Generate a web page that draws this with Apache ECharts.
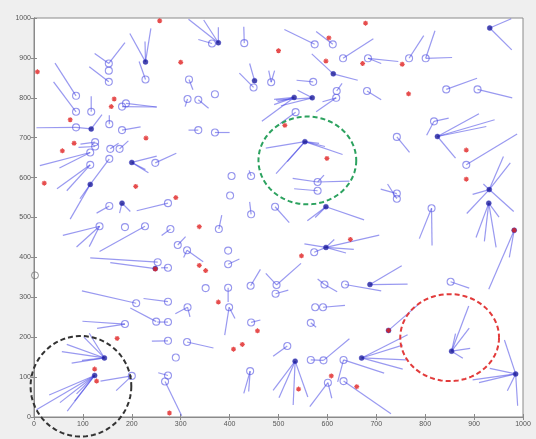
<!DOCTYPE html>
<html>
<head>
<meta charset="utf-8">
<title>Cluster map</title>
<script src="https://cdn.jsdelivr.net/npm/echarts@6/dist/echarts.min.js"></script>
</head>
<body style="margin:0;background:#efefef">
<div id="main" style="width:536px;height:439px;"></div>
<script>
// hollow circles = ordinary nodes
var nodes = [
  [86,805],[86,765],[117,765],[153,886],[153,868],[153,840],[228,846],[86,726],[154,734],[180,719],
  [180,778],[188,786],[125,689],[125,678],[115,663],[115,632],[154,647],[156,672],[175,672],[248,637],
  [154,529],[274,536],[314,797],[317,846],[336,795],[370,809],[336,719],[370,713],[404,604],[444,604],
  [401,555],[444,508],[364,936],[430,937],[449,826],[485,839],
  [574,934],[611,934],[632,899],[683,899],[767,899],[801,899],[571,840],[619,817],[618,800],[681,817],
  [535,764],[580,589],[580,567],[493,527],[742,560],[742,547],[742,702],[818,741],[843,821],[907,821],
  [884,632],[813,523],
  [134,478],[186,476],[227,478],[279,471],[294,431],[313,418],[378,471],[397,417],[397,383],[253,388],
  [274,374],[443,329],[209,285],[274,289],[314,275],[351,323],[397,324],[399,275],[250,239],[274,238],
  [186,233],[444,237],[274,191],[313,188],[290,149],[200,103],[274,104],[268,89],[442,115],[496,331],
  [494,309],
  [573,413],[594,332],[636,332],[575,275],[591,275],[566,236],[518,178],[566,143],[592,142],[633,143],
  [601,86],[633,90],[852,339]
];

// filled dark dots = cluster heads
var heads = [
  [228,890],[117,722],[115,583],[200,638],[180,536],[377,938],[451,843],[612,860],[532,801],[569,800],
  [554,690],[597,527],[825,703],[932,975],[931,570],[930,536],[248,372],[144,148],[124,104],[597,425],
  [687,332],[725,217],[534,140],[670,148],[854,165],[982,468],[985,108]
];

// segments x1,y1 -> x2,y2
var links = [
  [86,805,43,887],[86,765,40,840],[117,765,117,804],[153,886,186,938],[153,886,124,911],[153,840,113,878],
  [228,890,196,961],[228,890,239,974],[228,890,227,941],[228,846,215,891],
  [86,726,5,725],[117,722,139,758],[117,722,86,726],[154,734,154,756],[180,719,218,727],[180,778,251,777],[188,786,251,777],
  [125,689,95,684],[125,678,91,676],[115,663,12,630],[115,663,52,624],[115,632,47,572],[115,632,67,567],
  [115,583,154,647],[115,583,94,547],[115,583,74,496],
  [156,672,173,686],[175,672,193,692],[200,638,251,654],[200,638,234,612],[200,638,228,620],[248,637,291,661],
  [154,529,128,511],[180,536,175,511],[180,536,197,515],[274,536,210,517],
  [314,797,309,778],[317,846,325,820],[336,795,357,774],[336,719,316,719],[370,713,400,713],
  [444,604,440,618],[444,508,441,539],
  [377,938,316,997],[377,938,347,995],[377,938,377,977],[364,936,336,946],[430,937,429,978],
  [449,826,420,862],[451,843,441,886],[485,839,480,868],[485,839,492,868],
  [574,934,512,971],[611,934,577,966],[632,899,694,948],[683,899,745,891],[683,899,710,886],[767,899,797,956],
  [801,899,820,968],[801,899,855,901],
  [612,860,568,910],[612,860,662,844],[571,840,537,844],[619,817,630,836],[618,800,577,765],[618,800,590,790],[681,817,710,795],
  [532,801,466,741],[532,801,491,783],[532,801,491,796],[532,801,498,790],[569,800,539,819],[569,800,495,794],[569,800,505,780],
  [535,764,503,735],
  [554,690,474,674],[554,690,631,658],[554,690,595,678],[554,690,495,610],[554,690,518,640],[554,690,583,686],
  [580,589,645,591],[580,589,529,598],[580,589,593,606],[580,567,532,572],
  [597,527,559,492],[597,527,675,494],[597,527,575,500],[493,527,522,487],
  [742,560,709,571],[742,547,723,584],[742,702,768,663],[818,741,848,749],[818,741,803,706],
  [825,703,910,760],[825,703,942,745],[825,703,925,728],[825,703,862,649],
  [843,821,906,849],[907,821,978,800],[932,975,977,920],[932,975,976,998],[884,632,988,709],
  [931,570,960,653],[931,570,974,637],[931,570,897,558],[931,570,981,515],[931,570,885,510],[931,570,919,584],
  [930,536,904,450],[930,536,945,425],[930,536,921,440],[930,536,951,501],
  [813,523,788,447],[813,523,814,430],
  [134,478,59,455],[134,478,87,426],[134,478,113,427],[227,478,134,415],[279,471,261,455],[294,431,310,452],
  [313,418,346,389],[313,418,306,400],[378,471,384,506],[397,383,420,396],
  [248,372,156,387],[253,388,115,399],[274,374,260,374],[443,329,463,370],[209,285,98,316],[274,289,224,297],
  [314,275,289,259],[314,275,319,251],[397,324,397,288],[399,275,390,205],[399,275,411,247],[250,239,197,273],
  [274,238,252,238],[186,233,99,240],[186,233,129,222],[444,237,463,243],[274,191,241,190],[313,188,367,173],
  [144,148,67,182],[144,148,113,210],[144,148,57,164],[144,148,77,135],[144,148,98,142],[144,148,102,200],
  [124,104,31,55],[124,104,5,18],[124,104,68,15],[124,104,53,36],[124,104,83,40],[124,104,87,58],
  [200,103,136,90],[200,103,168,66],[274,104,254,111],[268,89,302,3],[442,115,429,59],[442,115,439,64],
  [496,331,546,385],[496,331,474,360],[494,309,520,318],
  [597,425,706,456],[597,425,553,434],[597,425,654,420],[597,425,638,411],[597,425,614,445],[597,425,573,413],
  [594,332,620,314],[594,332,580,346],[636,332,710,316],[687,332,752,379],[687,332,764,333],[591,275,636,280],
  [566,236,577,225],[725,217,785,281],[518,178,489,152],
  [534,140,489,67],[534,140,501,48],[534,140,530,30],[534,140,560,50],
  [592,142,645,196],[566,143,592,142],[633,143,621,88],[633,143,716,110],[601,86,564,26],[601,86,609,47],[633,90,730,8],
  [670,148,764,206],[670,148,754,180],[670,148,761,143],[670,148,754,120],
  [854,165,889,278],[854,165,890,223],[854,165,892,172],[854,165,877,147],[854,165,862,209],
  [852,339,890,323],[982,468,930,320],[982,468,972,400],
  [985,108,897,93],[985,108,962,193],[985,108,989,28],[985,108,932,122],[985,108,910,86],[985,108,968,66]
];

// red asterisks
var deadNodes = [
  [257,993],[300,889],[7,865],[164,797],[158,778],[74,745],[82,686],[58,667],[229,699],[21,586],[208,578],[290,550],
  [678,987],[500,918],[603,950],[597,892],[672,886],[753,884],[766,810],[513,731],[599,648],[884,669],[884,596],
  [338,477],[338,380],[351,367],[248,371],[377,288],[170,197],[408,170],[426,182],[457,216],[124,120],[128,90],[277,10],
  [647,445],[547,404],[982,468],[725,217],[608,103],[541,70],[660,76]
];

var baseStation = [[2,355]];

// dashed zones: cx, cy, rx, ry (data units)
var zones = [[96,77,103,126],[559,643,100,110],[850,199,101,109]];
var zoneColors = ['#333333','#2ca25f','#e23b3b'];

var myChart = echarts.init(document.getElementById('main'));

var tickAxis = {
  type: 'value', min: 0, max: 1000, interval: 100,
  axisLine: { show: true, lineStyle: { color: '#8a8a8a', width: 1 } },
  axisTick: { show: true, inside: true, length: 3, lineStyle: { color: '#8a8a8a' } },
  splitLine: { show: false }
};
var labelStyle = {
  show: true, fontSize: 7, color: '#555', fontFamily: 'Liberation Sans',
  formatter: function (v) { return String(v); }
};

var option = {
  backgroundColor: '#efefef',
  animation: false,
  grid: {
    left: 34, right: 13, top: 18, bottom: 22,
    show: true, backgroundColor: '#fff', borderColor: '#8a8a8a', borderWidth: 1
  },
  xAxis: [
    Object.assign({}, tickAxis, { position: 'bottom', axisLabel: Object.assign({ margin: 4 }, labelStyle) }),
    Object.assign({}, tickAxis, { position: 'top', axisLabel: { show: false } })
  ],
  yAxis: [
    Object.assign({}, tickAxis, { position: 'left', axisLabel: Object.assign({ margin: 3 }, labelStyle) }),
    Object.assign({}, tickAxis, { position: 'right', axisLabel: { show: false } })
  ],
  series: [
    {
      type: 'custom',
      data: links,
      encode: { x: [0, 2], y: [1, 3] },
      renderItem: function (params, api) {
        var p1 = api.coord([api.value(0), api.value(1)]);
        var p2 = api.coord([api.value(2), api.value(3)]);
        return {
          type: 'line',
          shape: { x1: p1[0], y1: p1[1], x2: p2[0], y2: p2[1] },
          style: { stroke: 'rgba(70,70,228,0.55)', lineWidth: 1.2 }
        };
      },
      z: 2
    },
    {
      type: 'scatter',
      data: nodes,
      symbol: 'circle',
      symbolSize: 7,
      itemStyle: { color: 'rgba(0,0,0,0)', borderColor: 'rgba(80,80,225,0.75)', borderWidth: 1.1 },
      z: 3
    },
    {
      type: 'scatter',
      data: baseStation,
      symbol: 'circle',
      symbolSize: 7,
      itemStyle: { color: 'rgba(0,0,0,0)', borderColor: '#777', borderWidth: 1 },
      z: 3
    },
    {
      type: 'scatter',
      data: heads,
      symbol: 'circle',
      symbolSize: 5,
      itemStyle: { color: '#1c1c96', borderColor: 'rgba(60,60,200,0.7)', borderWidth: 0.8 },
      z: 4
    },
    {
      type: 'scatter',
      data: deadNodes,
      symbol: 'path://M5,0L5,10M0,5L10,5M1.5,1.5L8.5,8.5M1.5,8.5L8.5,1.5',
      symbolSize: 5,
      itemStyle: { color: '#e02020', borderColor: '#e02020', borderWidth: 1.2 },
      z: 5
    },
    {
      type: 'custom',
      data: zones,
      encode: { x: 0, y: 1 },
      renderItem: function (params, api) {
        var c = api.coord([api.value(0), api.value(1)]);
        var s = api.size([api.value(2), api.value(3)]);
        var pts = [];
        for (var k = 0; k <= 90; k++) {
          var a = k / 90 * Math.PI * 2;
          pts.push([c[0] + s[0] * Math.cos(a), c[1] + s[1] * Math.sin(a)]);
        }
        return {
          type: 'polyline',
          shape: { points: pts },
          style: { stroke: zoneColors[params.dataIndex], lineWidth: 2, lineDash: [5, 3], fill: null }
        };
      },
      z: 6
    }
  ]
};

myChart.setOption(option);
</script>
</body>
</html>
